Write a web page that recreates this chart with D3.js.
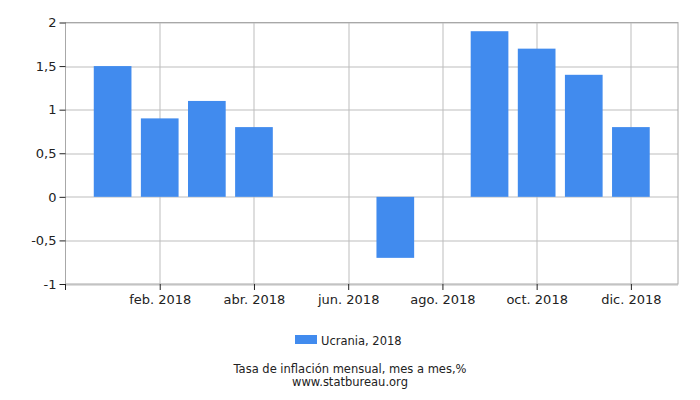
<!DOCTYPE html>
<html>
<head>
<meta charset="utf-8">
<script src="https://cdn.jsdelivr.net/npm/d3@7"></script>
<style>
  body { margin: 0; background: #fff; }
  svg { font-family: "DejaVu Sans", sans-serif; }
</style>
</head>
<body>
<svg width="700" height="400"></svg>
<script>
const months = ["ene. 2018", "feb. 2018", "mar. 2018", "abr. 2018", "may. 2018", "jun. 2018",
  "jul. 2018", "ago. 2018", "sep. 2018", "oct. 2018", "nov. 2018", "dic. 2018"];
const values = [1.5, 0.9, 1.1, 0.8, 0, 0, -0.7, 0, 1.9, 1.7, 1.4, 0.8];
const labeledMonths = ["feb. 2018", "abr. 2018", "jun. 2018", "ago. 2018", "oct. 2018", "dic. 2018"];
const yTicks = [-1, -0.5, 0, 0.5, 1, 1.5, 2];
const seriesName = "Ucrania, 2018";
const title = "Tasa de inflación mensual, mes a mes,%";
const source = "www.statbureau.org";

const margin = { top: 22.5, right: 22, bottom: 116, left: 65.5 };
const width = 700 - margin.left - margin.right;
const height = 400 - margin.top - margin.bottom;

const svg = d3.select("svg");
const g = svg.append("g")
  .attr("transform", `translate(${margin.left},${margin.top})`);

const xScale = d3.scalePoint()
  .domain(months)
  .range([0, width])
  .padding(1);

const yScale = d3.scaleLinear()
  .domain([-1, 2])
  .range([height, 0]);

const fmt = d => String(d).replace(".", ",");

// grid
g.selectAll(".hgrid")
  .data(yTicks)
  .enter().append("line")
  .attr("x1", 0).attr("x2", width)
  .attr("y1", d => Math.round(yScale(d)) + 0.5)
  .attr("y2", d => Math.round(yScale(d)) + 0.5)
  .attr("stroke", "#bdbdbd");

g.selectAll(".vgrid")
  .data(labeledMonths)
  .enter().append("line")
  .attr("x1", d => Math.round(xScale(d)) + 0.5)
  .attr("x2", d => Math.round(xScale(d)) + 0.5)
  .attr("y1", 0).attr("y2", height)
  .attr("stroke", "#bdbdbd");

// frame
g.append("rect")
  .attr("x", 0).attr("y", 0)
  .attr("width", width).attr("height", height)
  .attr("fill", "none")
  .attr("stroke", "#a8a8a8");

// bars
const bw = xScale.step() * 0.8;
g.selectAll(".bar")
  .data(values)
  .enter().append("rect")
  .attr("class", "bar")
  .attr("x", (d, i) => xScale(months[i]) - bw / 2)
  .attr("y", d => yScale(Math.max(0, d)))
  .attr("width", bw)
  .attr("height", d => Math.abs(yScale(d) - yScale(0)))
  .attr("fill", "#418bee");

// axes
const yAxis = d3.axisLeft(yScale)
  .tickValues(yTicks)
  .tickFormat(fmt)
  .tickSize(6)
  .tickPadding(3);

const yg = g.append("g").call(yAxis);
yg.select(".domain").remove();
yg.selectAll(".tick line").attr("stroke", "#222");
yg.selectAll("text").attr("font-size", 13).attr("fill", "#222")
  .attr("font-family", "DejaVu Sans, sans-serif");

const xAxis = d3.axisBottom(xScale)
  .tickValues(labeledMonths)
  .tickSize(6)
  .tickPadding(5);

const xg = g.append("g")
  .attr("transform", `translate(0,${height})`)
  .call(xAxis);
xg.select(".domain").remove();
xg.selectAll(".tick line").attr("stroke", "#222");
xg.selectAll("text").attr("font-size", 13).attr("fill", "#222")
  .attr("font-family", "DejaVu Sans, sans-serif");

g.append("line")
  .attr("x1", 0).attr("x2", 0)
  .attr("y1", height).attr("y2", height + 6)
  .attr("stroke", "#222");

// legend
const legend = svg.append("g").attr("transform", "translate(295,335)");
legend.append("rect")
  .attr("width", 22).attr("height", 9)
  .attr("fill", "#418bee");
legend.append("text")
  .attr("x", 26).attr("y", 10)
  .attr("font-size", 11.5)
  .attr("fill", "#222")
  .text(seriesName);

svg.append("text")
  .attr("x", 350).attr("y", 373)
  .attr("text-anchor", "middle")
  .attr("font-size", 11.5)
  .attr("fill", "#222")
  .text(title);

svg.append("text")
  .attr("x", 350).attr("y", 386)
  .attr("text-anchor", "middle")
  .attr("font-size", 11.5)
  .attr("fill", "#222")
  .text(source);
</script>
</body>
</html>
